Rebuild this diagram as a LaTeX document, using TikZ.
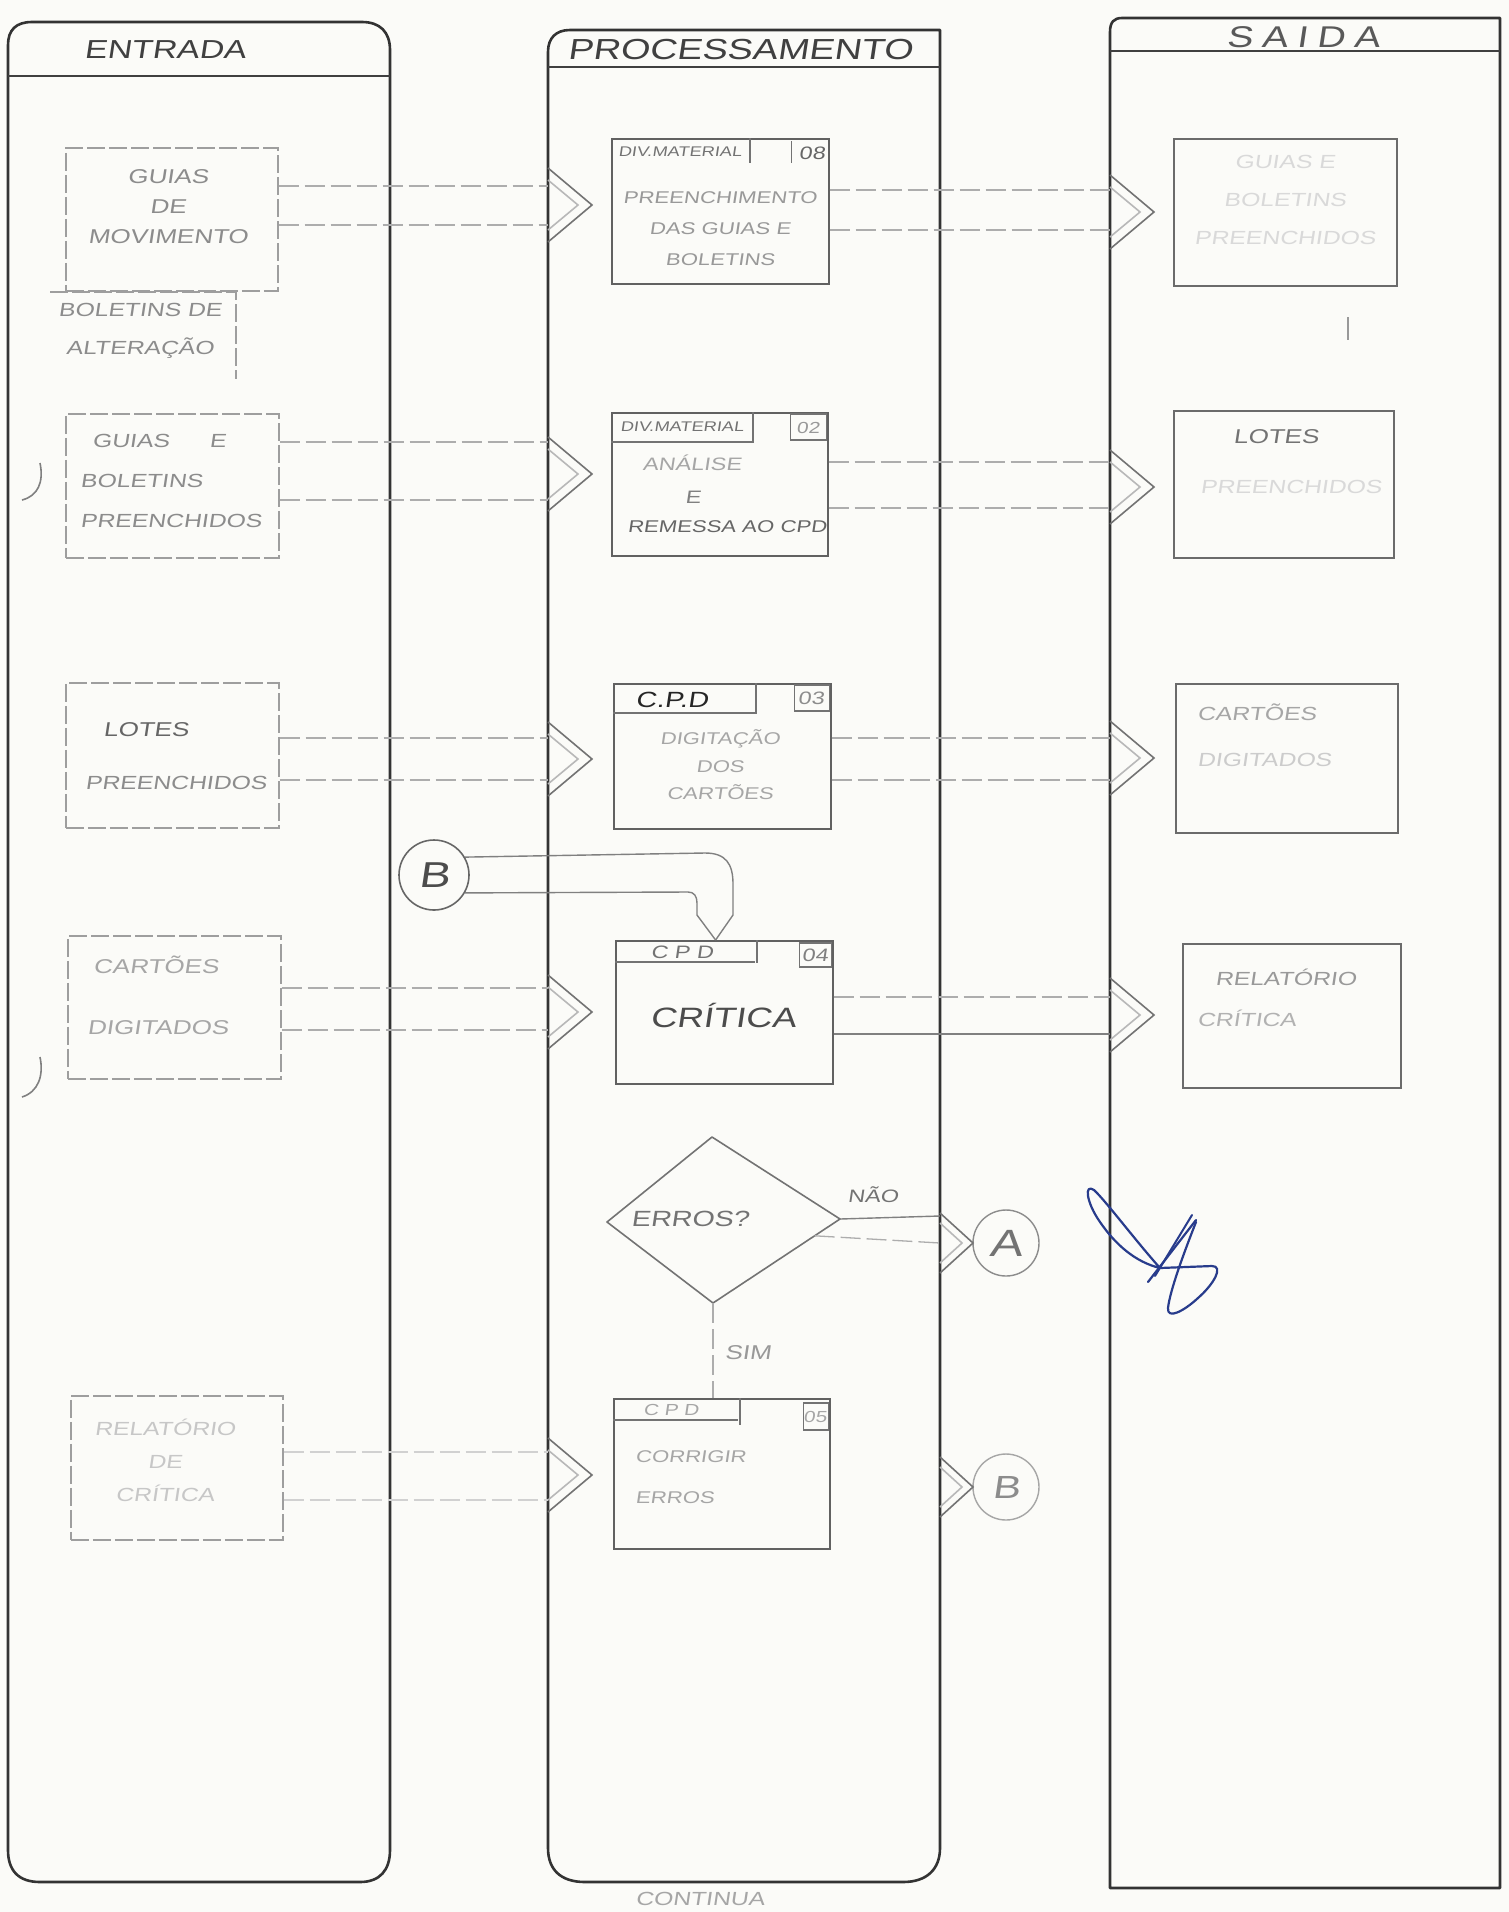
\documentclass[tikz,border=0pt]{standalone}
\usepackage{fontspec}
\newfontfamily\hand[FakeStretch=1.3,FakeSlant=0.15]{Liberation Sans}
\usetikzlibrary{shapes.geometric,calc}
\definecolor{paper}{RGB}{251,251,248}
\definecolor{ink}{RGB}{40,60,140}
\newcommand{\hfs}[2]{\hand\fontsize{#1}{#2}\selectfont}
\begin{document}
\begin{tikzpicture}[x=0.5pt,y=-0.5pt,
  lane/.style={draw=black!80, line width=1.3pt, line join=round},
  hl/.style={draw=black!75, line width=1.1pt},
  fb/.style={draw=black!38, line width=0.8pt, dash pattern=on 9pt off 2pt, anchor=north west, inner sep=0},
  fl/.style={draw=black!38, line width=0.8pt, dash pattern=on 9pt off 2pt},
  pb/.style={draw=black!62, line width=0.85pt, anchor=north west, inner sep=0},
  pbl/.style={draw=black!55, line width=0.7pt},
  sb/.style={draw=black!58, line width=0.85pt, anchor=north west, inner sep=0},
  cn/.style={draw=black!32, line width=0.65pt, dash pattern=on 10pt off 3pt},
  cnd/.style={draw=black!50, line width=0.7pt},
  chv/.style={draw=black!55, line width=0.8pt, line join=miter},
  tx/.style={inner sep=0, align=center, text=black!45},
  chev/.pic={\draw[chv] (0,-37) -- (44,0) -- (0,37);
             \draw[chv, draw=black!28] (0,-25) -- (30,0) -- (0,25);},
  chevsm/.pic={\draw[chv] (0,-30) -- (33,0) -- (0,30);
             \draw[chv, draw=black!28] (0,-20) -- (22,0) -- (0,20);}
]
\useasboundingbox (0,0) rectangle (1509,1912);
\fill[paper] (0,0) rectangle (1509,1912);

% ---------- lanes ----------
\draw[lane] (8,45) .. controls (8,30) and (16,22) .. (32,22) -- (362,22) .. controls (380,22) and (390,32) .. (390,50) -- (390,1850) .. controls (390,1870) and (380,1882) .. (360,1882) -- (40,1882) .. controls (18,1882) and (8,1870) .. (8,1850) -- cycle;
\draw[hl] (8,76) -- (390,76);
\draw[lane] (940,30) -- (570,30) .. controls (556,30) and (548,38) .. (548,52) -- (548,1848) .. controls (548,1869) and (560,1882) .. (585,1882) -- (903,1882) .. controls (927,1882) and (940,1869) .. (940,1848) -- cycle;
\draw[hl] (548,67) -- (940,67);
\draw[lane] (1500,18) -- (1122,18) .. controls (1114,18) and (1110,22) .. (1110,32) -- (1110,1888) -- (1500,1888) -- cycle;
\draw[hl] (1110,51) -- (1500,51);
\coordinate (PL) at (548,0);
\coordinate (PR) at (940,0);
\coordinate (SL) at (1110,0);

\node[tx, text=black!75, font=\hfs{13}{15}] (hE) at (165,50) {ENTRADA};
\node[tx, text=black!75, font=\hfs{14.5}{16}] (hP) at (740,50) {PROCESSAMENTO};
\node[tx, text=black!65, font={\hfs{15}{17}\addfontfeature{LetterSpace=30}}] (hS) at (1303,37) {SAIDA};

% ---------- ENTRADA ----------
\node[fb, minimum width=106pt, minimum height=71.5pt] (e1) at (65,147) {};
\node[tx, font=\hfs{10}{15}] (e1t) at (168,207) {GUIAS\\DE\\MOVIMENTO};
\node[inner sep=0, minimum width=92.5pt, minimum height=43pt, anchor=north west] (e2) at (50,292) {};
\draw[fl] (e2.north west) -- (e2.north east) -- (e2.south east);
\node[tx, font=\hfs{9.5}{19}] (e2t) at (140,331) {BOLETINS DE\\ALTERAÇÃO};
\node[fb, minimum width=106.5pt, minimum height=72pt] (e3) at (65,413) {};
\node[tx, align=left, anchor=west, font=\hfs{9.5}{20}] (e3t) at (80,481) {\hspace{6pt}GUIAS\hspace{20pt}E\\BOLETINS\\PREENCHIDOS};
\node[fb, minimum width=106.5pt, minimum height=72.5pt] (e4) at (65,682) {};
\node[tx, anchor=west, font=\hfs{10}{12}, text=black!60] (e4a) at (103,730) {LOTES};
\node[tx, anchor=west, font=\hfs{9.5}{12}] (e4b) at (85,783) {PREENCHIDOS};
\node[fb, minimum width=106.5pt, minimum height=71.5pt] (e5) at (67,935) {};
\node[tx, anchor=west, font=\hfs{10}{12}, text=black!35] (e5a) at (93,965) {CARTÕES};
\node[tx, anchor=west, font=\hfs{10}{12}, text=black!35] (e5b) at (87,1028) {DIGITADOS};
\node[fb, minimum width=106pt, minimum height=72pt] (e6) at (70,1395) {};
\node[tx, font=\hfs{9.5}{16.5}, text=black!22] (e6t) at (165,1460) {RELATÓRIO\\DE\\CRÍTICA};

% ---------- PROCESSAMENTO ----------
\node[pb, minimum width=108.5pt, minimum height=72.5pt] (p1) at (611,138) {};
\draw[pbl] (p1.north west) ++(139,0) -- ++(0,25);
\draw[pbl] (p1.north east) ++(-38,3) -- ++(0,22);
\node[tx, font=\hfs{7}{8}, text=black!55] (p1h) at (680,152) {DIV.MATERIAL};
\node[tx, font=\hfs{9}{10}, text=black!60] (p1n) at (812,153) {08};
\node[tx, font=\hfs{8.5}{15.5}, text=black!40] (p1t) at (720,229) {PREENCHIMENTO\\DAS GUIAS E\\BOLETINS};

\node[pb, minimum width=108pt, minimum height=71.5pt] (p2) at (611,412) {};
\draw[pbl] (p2.north west) ++(142,0) -- ++(0,30) -- ++(-142,0);
\draw[pbl] (p2.north east) ++(-38,2) rectangle ++(36,26);
\node[tx, font=\hfs{7}{8}, text=black!55] (p2h) at (682,427) {DIV.MATERIAL};
\node[tx, font=\hfs{8}{10}, text=black!40] (p2n) at (808,428) {02};
\node[tx, font=\hfs{9}{10}, text=black!35] (p2a) at (692,463) {ANÁLISE};
\node[tx, font=\hfs{9}{10}, text=black!50] (p2b) at (693,497) {E};
\node[tx, font=\hfs{8.5}{10}, text=black!60] (p2c) at (727,527) {REMESSA AO CPD};

\node[pb, minimum width=108.5pt, minimum height=72.5pt] (p3) at (613,683) {};
\draw[pbl] (p3.north west) ++(143,0) -- ++(0,30) -- ++(-143,0);
\draw[pbl] (p3.north east) ++(-37,2) rectangle ++(35,26);
\node[tx, font=\hfs{11}{12}, text=black!85] (p3h) at (672,700) {C.P.D};
\node[tx, font=\hfs{9}{10}, text=black!45] (p3n) at (811,698) {03};
\node[tx, font=\hfs{8.5}{13.75}, text=black!35] (p3t) at (720,765) {DIGITAÇÃO\\DOS\\CARTÕES};

\node[pb, minimum width=108.5pt, minimum height=71.5pt] (p4) at (615,940) {};
\draw[pbl] (p4.north west) ++(142,0) -- ++(0,23);
\draw[pbl] (p4.north west) ++(0,22) -- ++(140,0);
\draw[pbl] (p4.north east) ++(-34,3) rectangle ++(32,24);
\node[tx, font=\hfs{9}{10}, text=black!55] (p4h) at (682,952) {C P D};
\node[tx, font=\hfs{9}{10}, text=black!50] (p4n) at (815,955) {04};
\node[tx, font=\hfs{14}{16}, text=black!70] (p4t) at (723,1015) {CRÍTICA};

% decision (drawn as a polygon through named points)
\coordinate (dN) at (712,1137);
\coordinate (dE) at (840,1219);
\coordinate (dS) at (713,1303);
\coordinate (dW) at (607,1222);
\draw[draw=black!55, line width=0.8pt, line join=round] (dN) -- (dE) -- (dS) -- (dW) -- cycle;
\node[tx, font=\hfs{11}{12}, text=black!55] (dect) at (690,1219) {ERROS?};
\node[tx, font=\hfs{9}{10}, text=black!55] (nao) at (873,1195) {NÃO};
\node[tx, font=\hfs{10}{11}, text=black!40] (sim) at (748,1353) {SIM};

\node[pb, minimum width=108pt, minimum height=75pt] (p5) at (613,1398) {};
\draw[pbl] (p5.north west) ++(127,0) -- ++(0,27);
\draw[pbl] (p5.north west) ++(0,22) -- ++(125,0);
\draw[pbl] (p5.north east) ++(-27,5) rectangle ++(25,27);
\node[tx, font=\hfs{8}{9}, text=black!35] (p5h) at (671,1410) {C P D};
\node[tx, font=\hfs{8}{9}, text=black!35] (p5n) at (815,1417) {05};
\node[tx, align=left, anchor=west, font=\hfs{8.5}{20.5}, text=black!35] (p5t) at (635,1477) {CORRIGIR\\ERROS};

\node[circle, draw=black!45, line width=0.7pt, minimum size=33pt, inner sep=0, font=\hfs{19}{19}, text=black!55] (ca) at (1006,1243) {A};
\node[circle, draw=black!35, line width=0.7pt, minimum size=33pt, inner sep=0, font=\hfs{16}{16}, text=black!45] (cb) at (1006,1487) {B};
\node[circle, draw=black!60, line width=0.8pt, minimum size=35pt, inner sep=0, font=\hfs{18}{18}, text=black!70] (bt) at (434,875) {B};

% ---------- SAIDA ----------
\node[sb, minimum width=111.5pt, minimum height=73.5pt] (s1) at (1173,138) {};
\node[tx, font=\hfs{9.5}{19}, text=black!15] (s1t) at (1285,200) {GUIAS E\\BOLETINS\\PREENCHIDOS};
\draw[black!40, line width=0.6pt] (1348,317) -- (1348,340);
\node[sb, minimum width=110pt, minimum height=73.5pt] (s2) at (1173,410) {};
\node[tx, anchor=west, font=\hfs{10}{12}, text=black!55] (s2a) at (1233,437) {LOTES};
\node[tx, anchor=west, font=\hfs{9.5}{12}, text=black!15] (s2b) at (1200,487) {PREENCHIDOS};
\node[sb, minimum width=111pt, minimum height=74.5pt] (s3) at (1175,683) {};
\node[tx, anchor=west, font=\hfs{9.5}{12}, text=black!35] (s3a) at (1197,712) {CARTÕES};
\node[tx, anchor=west, font=\hfs{9.5}{12}, text=black!20] (s3b) at (1197,760) {DIGITADOS};
\node[sb, minimum width=109pt, minimum height=72pt] (s4) at (1182,943) {};
\node[tx, anchor=west, font=\hfs{9.5}{12}, text=black!40] (s4a) at (1215,977) {RELATÓRIO};
\node[tx, anchor=west, font=\hfs{9.5}{12}, text=black!30] (s4b) at (1197,1018) {CRÍTICA};

% ---------- connectors ENTRADA -> PROCESSAMENTO ----------
\draw[cn] (e1.east |- 0,186) -- (PL |- 0,186);
\draw[cn] (e1.east |- 0,225) -- (PL |- 0,225);
\pic at (548,205) {chev};
\draw[cn] (e3.east |- 0,442) -- (PL |- 0,442);
\draw[cn] (e3.east |- 0,500) -- (PL |- 0,500);
\pic at (548,474) {chev};
\draw[cn] (e4.east |- 0,738) -- (PL |- 0,738);
\draw[cn] (e4.east |- 0,780) -- (PL |- 0,780);
\pic at (548,759) {chev};
\draw[cn] (e5.east |- 0,988) -- (PL |- 0,988);
\draw[cn] (e5.east |- 0,1030) -- (PL |- 0,1030);
\pic at (548,1012) {chev};
\draw[cn, draw=black!18] (e6.east |- 0,1452) -- (PL |- 0,1452);
\draw[cn, draw=black!18] (e6.east |- 0,1500) -- (PL |- 0,1500);
\pic at (548,1475) {chev};

% ---------- connectors PROCESSAMENTO -> SAIDA ----------
\draw[cn] (p1.east |- 0,190) -- (SL |- 0,190);
\draw[cn] (p1.east |- 0,230) -- (SL |- 0,230);
\pic at (1110,212) {chev};
\draw[cn] (p2.east |- 0,462) -- (SL |- 0,462);
\draw[cn] (p2.east |- 0,508) -- (SL |- 0,508);
\pic at (1110,487) {chev};
\draw[cn] (p3.east |- 0,738) -- (SL |- 0,738);
\draw[cn] (p3.east |- 0,780) -- (SL |- 0,780);
\pic at (1110,758) {chev};
\draw[cn] (p4.east |- 0,997) -- (SL |- 0,997);
\draw[cnd] (p4.east |- 0,1034) -- (SL |- 0,1034);
\pic at (1110,1015) {chev};

% ---------- B -> CRITICA ----------
\coordinate (btip) at ($(p4.north west)!0.46!(p4.north east)$);
\draw[cnd] (bt.30) -- (705,853) .. controls (726,853) and (733,864) .. (733,884) -- (733,915) -- (btip);
\draw[cnd] (bt.-30) -- (688,892) .. controls (694,892) and (697,896) .. (697,903) -- (697,915) -- (btip);

% ---------- decision branches ----------
\draw[cnd] (dE) -- (PR |- 0,1216);
\draw[cn] ($(dE)!0.2!(dS)$) -- (PR |- 0,1243);
\pic at (940,1243) {chevsm};
\draw[cn] (dS) -- (dS |- p5.north);
\pic at (940,1487) {chevsm};

\node[tx, font=\hfs{9.5}{11}, text=black!35] (cont) at (700,1899) {CONTINUA};

% ---------- marks ----------
\draw[black!50, line width=0.8pt] (22,500) .. controls (38,496) and (44,482) .. (40,463);
\draw[black!50, line width=0.8pt] (22,1097) .. controls (38,1092) and (44,1076) .. (40,1057);
\draw[ink, line width=1.1pt, line cap=round, line join=round] (1160,1268) .. controls (1135,1240) and (1105,1200) .. (1094,1190) .. controls (1084,1183) and (1086,1202) .. (1100,1222) .. controls (1115,1244) and (1135,1262) .. (1160,1268) -- (1212,1266) .. controls (1224,1266) and (1214,1284) .. (1198,1298) .. controls (1184,1311) and (1167,1320) .. (1168,1308) .. controls (1170,1290) and (1185,1250) .. (1196,1222);
\draw[ink, line width=1.1pt, line cap=round] (1196,1220) -- (1148,1282);
\draw[ink, line width=1pt, line cap=round] (1192,1215) -- (1155,1276);
\end{tikzpicture}
\end{document}
